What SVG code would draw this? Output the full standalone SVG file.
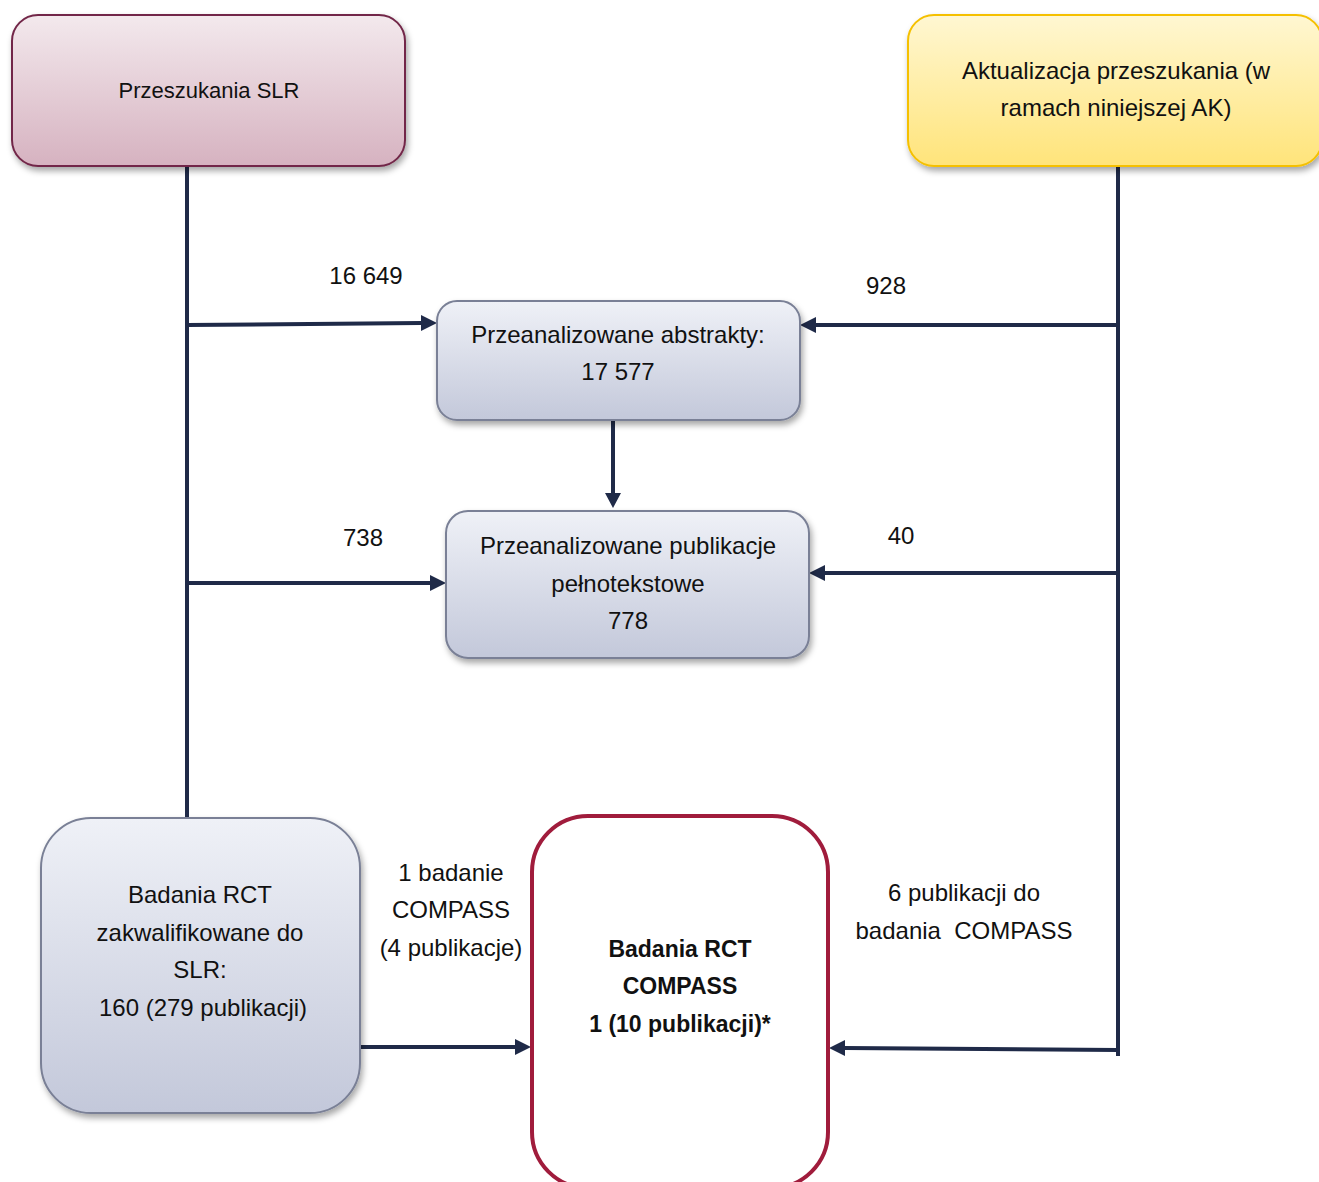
<svg xmlns="http://www.w3.org/2000/svg" width="1319" height="1182" viewBox="0 0 1319 1182">
<defs>
<linearGradient id="gPink" x1="0" y1="0" x2="0" y2="1"><stop offset="0" stop-color="#f3e9ed"/><stop offset="1" stop-color="#d6b2c0"/></linearGradient>
<linearGradient id="gYellow" x1="0" y1="0" x2="0" y2="1"><stop offset="0" stop-color="#fff7d2"/><stop offset="1" stop-color="#ffe47a"/></linearGradient>
<linearGradient id="gGray" x1="0" y1="0" x2="0" y2="1"><stop offset="0" stop-color="#eff1f7"/><stop offset="1" stop-color="#c3c8da"/></linearGradient>
<filter id="sh" x="-10%" y="-10%" width="130%" height="130%"><feDropShadow dx="2" dy="4" stdDeviation="3" flood-color="#000" flood-opacity="0.35"/></filter>
</defs>
<style>
text{font-family:"Liberation Sans",Arial,sans-serif;font-size:24px;fill:#111;text-anchor:middle}
.b{font-weight:bold;font-size:23px}
.c{stroke:#1f2a48;stroke-width:4;fill:none}
.h{fill:#1f2a48}
</style>
<g id="connectors">
<line class="c" x1="187" y1="166" x2="187" y2="817"/>
<line class="c" x1="187" y1="325" x2="421" y2="323"/>
<path class="h" d="M421,315 L437,323 L421,331 z"/>
<line class="c" x1="187" y1="583" x2="430" y2="583"/>
<path class="h" d="M430,575 L446,583 L430,591 z"/>
<line class="c" x1="613" y1="420" x2="613" y2="493"/>
<path class="h" d="M605,493 L613,508 L621,493 z"/>
<line class="c" x1="1118" y1="166" x2="1118" y2="1056"/>
<line class="c" x1="1118" y1="325" x2="816" y2="325"/>
<path class="h" d="M816,317 L800,325 L816,333 z"/>
<line class="c" x1="1118" y1="573" x2="825" y2="573"/>
<path class="h" d="M825,565 L809,573 L825,581 z"/>
<line class="c" x1="1118" y1="1050" x2="845" y2="1048"/>
<path class="h" d="M845,1040 L829,1048 L845,1056 z"/>
<line class="c" x1="360" y1="1047" x2="515" y2="1047"/>
<path class="h" d="M515,1039 L531,1047 L515,1055 z"/>
</g>
<g id="labels">
<text x="366" y="284">16 649</text>
<text x="886" y="294">928</text>
<text x="363" y="546">738</text>
<text x="901" y="544">40</text>
<text x="451" y="881">1 badanie</text>
<text x="451" y="918">COMPASS</text>
<text x="451" y="956">(4 publikacje)</text>
<text x="964" y="901">6 publikacji do</text>
<text x="964" y="939" xml:space="preserve">badania  COMPASS</text>
</g>
<g id="node-slr">
<rect x="12" y="15" width="393" height="151" rx="26" fill="url(#gPink)" stroke="#722848" stroke-width="2" filter="url(#sh)"/>
<text x="209" y="98" style="font-size:22px">Przeszukania SLR</text>
</g>
<g id="node-aktualizacja">
<rect x="908" y="15" width="414" height="151" rx="26" fill="url(#gYellow)" stroke="#f5c000" stroke-width="2" filter="url(#sh)"/>
<text x="1116" y="79">Aktualizacja przeszukania (w</text>
<text x="1116" y="116">ramach niniejszej AK)</text>
</g>
<g id="node-abstrakty">
<rect x="437" y="301" width="363" height="119" rx="20" fill="url(#gGray)" stroke="#7a8096" stroke-width="2" filter="url(#sh)"/>
<text x="618" y="343">Przeanalizowane abstrakty:</text>
<text x="618" y="380">17 577</text>
</g>
<g id="node-pelnotekstowe">
<rect x="446" y="511" width="363" height="147" rx="22" fill="url(#gGray)" stroke="#7a8096" stroke-width="2" filter="url(#sh)"/>
<text x="628" y="554">Przeanalizowane publikacje</text>
<text x="628" y="592">pełnotekstowe</text>
<text x="628" y="629">778</text>
</g>
<g id="node-rct-slr">
<rect x="41" y="818" width="319" height="295" rx="50" fill="url(#gGray)" stroke="#7a8096" stroke-width="2" filter="url(#sh)"/>
<text x="200" y="903">Badania RCT</text>
<text x="200" y="941">zakwalifikowane do</text>
<text x="200" y="978">SLR:</text>
<text x="203" y="1016">160 (279 publikacji)</text>
</g>
<g id="node-compass">
<rect x="532" y="816" width="296" height="372" rx="56" fill="#fff" stroke="#a01c3c" stroke-width="4"/>
<text class="b" x="680" y="957">Badania RCT</text>
<text class="b" x="680" y="994">COMPASS</text>
<text class="b" x="680" y="1032">1 (10 publikacji)*</text>
</g>
</svg>
